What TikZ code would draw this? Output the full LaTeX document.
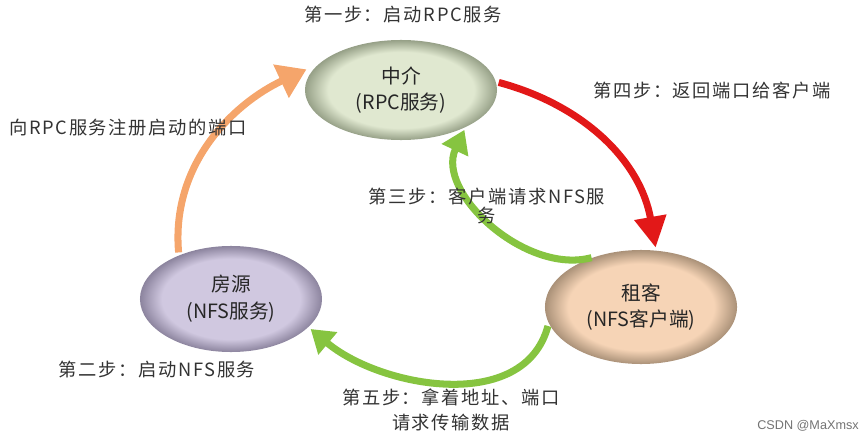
\documentclass[tikz,border=0pt]{standalone}
\usepackage{fontspec}
\newfontfamily\cjk{Noto Sans CJK SC}
\newfontfamily\cjklabel{Noto Sans CJK SC}[LetterSpace=9]
\newfontfamily\markfont{Liberation Sans}
\definecolor{AgentLight}{RGB}{224,232,208}
\definecolor{AgentDark}{RGB}{150,160,135}
\definecolor{SourceLight}{RGB}{208,200,224}
\definecolor{SourceDark}{RGB}{140,132,158}
\definecolor{TenantLight}{RGB}{246,212,182}
\definecolor{TenantDark}{RGB}{170,145,120}
\definecolor{RegColor}{RGB}{245,165,107}
\definecolor{ReplyColor}{RGB}{226,24,24}
\definecolor{RequestColor}{RGB}{134,196,64}
\usetikzlibrary{shapes.geometric, arrows.meta}
\pgfdeclareradialshading{agentshade}{\pgfpoint{0bp}{0bp}}{color(0bp)=(AgentLight); color(19bp)=(AgentLight); color(25bp)=(AgentDark); color(50bp)=(AgentDark)}
\pgfdeclareradialshading{sourceshade}{\pgfpoint{0bp}{0bp}}{color(0bp)=(SourceLight); color(19bp)=(SourceLight); color(25bp)=(SourceDark); color(50bp)=(SourceDark)}
\pgfdeclareradialshading{tenantshade}{\pgfpoint{0bp}{0bp}}{color(0bp)=(TenantLight); color(19bp)=(TenantLight); color(25bp)=(TenantDark); color(50bp)=(TenantDark)}
\tikzset{
    party/.style={
        ellipse,
        inner sep=0pt,
        align=center,
        text=black!85,
        font=\cjk\fontsize{14}{19}\selectfont
    },
    agent/.style={party, shading=agentshade, minimum width=4.8cm, minimum height=2.5cm},
    source/.style={party, shading=sourceshade, minimum width=4.55cm, minimum height=2.65cm},
    tenant/.style={party, shading=tenantshade, minimum width=4.8cm, minimum height=2.85cm},
    steplabel/.style={align=center, inner sep=0pt, text=black!80, font=\cjklabel\fontsize{13}{18}\selectfont},
    flow/.style={line width=5pt, shorten <=2pt, shorten >=2pt},
    regflow/.style={flow, draw=RegColor, -{Triangle[width=25pt,length=20pt]}},
    replyflow/.style={flow, draw=ReplyColor, -{Triangle[width=22pt,length=22pt]}},
    reqflow/.style={flow, draw=RequestColor, -{Triangle[width=20pt,length=16pt]}}
}

\begin{document}
\begin{tikzpicture}[x=0.025cm, y=-0.025cm]
        \useasboundingbox (0,0) rectangle (868,440);

        \node[agent] (zj) at (401,90) {中介\\(RPC服务)};

        \node[source] (fy) at (231,299) {房源\\(NFS服务)};

        \node[tenant] (zk) at (641,307) {租客\\(NFS客户端)};

        \draw[regflow, shorten >=10pt] (fy.140) to[out=95, in=205] (zj.162);
        \draw[replyflow] (zj.5) to[out=-15, in=100] (zk.75);
        \draw[reqflow] (zk.133) to[out=195, in=245] (zj.-30);
        \draw[reqflow] (zk.190) to[out=255, in=-40] (fy.-20);

        \node[steplabel] (s1) at (403,15) {第一步：启动RPC服务};
        \node[steplabel] (reg) at (128,128) {向RPC服务注册启动的端口};
        \node[steplabel] (s2) at (157,370) {第二步：启动NFS服务};
        \node[steplabel, font=\cjklabel\fontsize{13}{14}\selectfont] (s3) at (487,206) {第三步：客户端请求NFS服\\务};
        \node[steplabel] (s4) at (712,91) {第四步：返回端口给客户端};
        \node[steplabel] (s5) at (451,410) {第五步：拿着地址、端口\\请求传输数据};

        \node[text=black!55, font=\markfont\fontsize{9}{10}\selectfont] (mark) at (808,426) {CSDN @MaXmsx};
\end{tikzpicture}
\end{document}
